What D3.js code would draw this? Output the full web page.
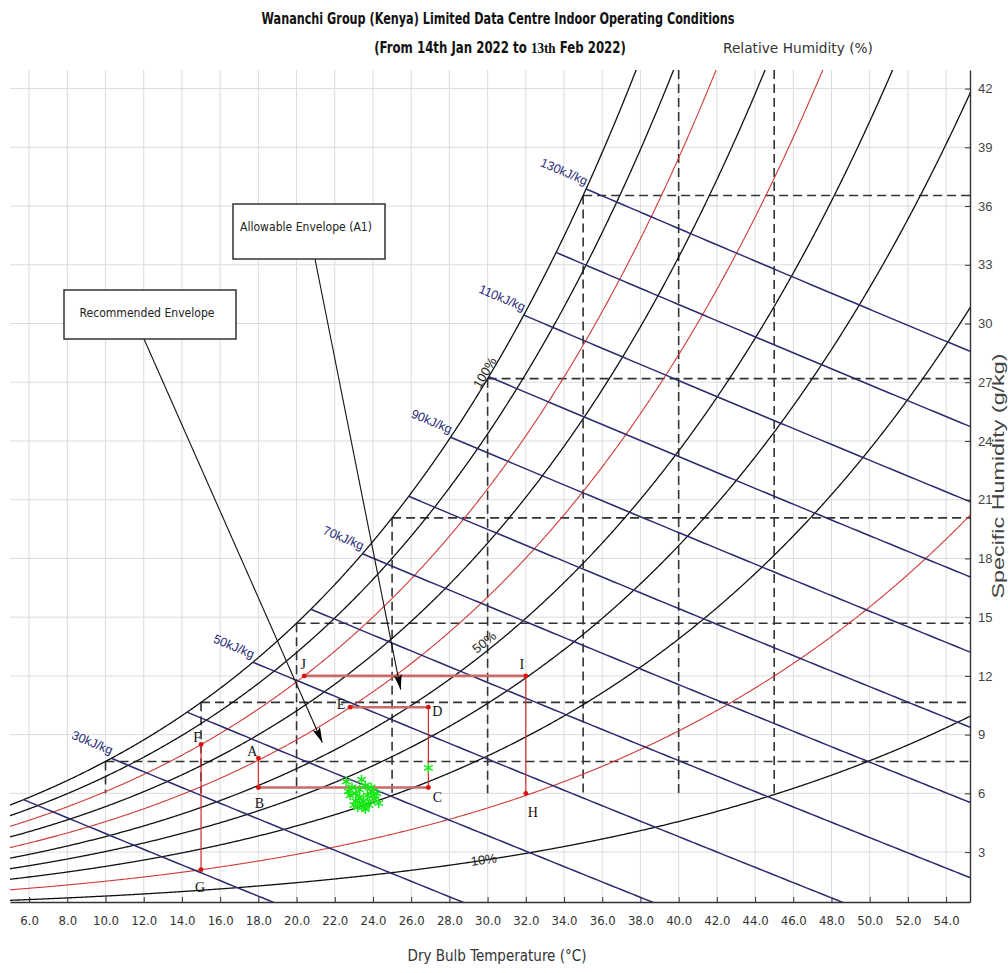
<!DOCTYPE html>
<html>
<head>
<meta charset="utf-8">
<script src="https://cdn.jsdelivr.net/npm/d3@7"></script>
<style>
  body { margin: 0; background: #fff; }
  text { font-family: "Liberation Sans Narrow", "Arial Narrow", "DejaVu Sans Condensed", sans-serif; }
</style>
</head>
<body>
<div id="chart"></div>
<script>
// tick labels
var xTicks = [6, 8, 10, 12, 14, 16, 18, 20, 22, 24, 26, 28, 30, 32, 34, 36, 38, 40, 42, 44, 46, 48, 50, 52, 54];
var yTicks = [3, 6, 9, 12, 15, 18, 21, 24, 27, 30, 33, 36, 39, 42];

// relative humidity curves (%) and enthalpy lines (kJ/kg)
var rhLevels = [10, 20, 30, 40, 50, 60, 70, 80, 90, 100];
var rhRed = [20, 60, 80];
var rhLabels = [100, 50, 10];
var enthalpyLevels = [20, 30, 40, 50, 60, 70, 80, 90, 100, 110, 120, 130];
var enthalpyLabels = [30, 50, 70, 90, 110, 130];

// saturation marks (dashed lines) at these dry bulb temps
var markTemps = [10, 15, 20, 25, 30, 35, 40, 45];

// envelope corner points
var envName = ["A", "B", "C", "D", "E", "F", "G", "H", "I", "J"];
var envTemp = [18.0, 18.0, 26.9, 26.9, 22.8, 15.0, 15.0, 32.0, 32.0, 20.4];
var envHum  = [7.8, 6.3, 6.3, 10.4, 10.4, 8.5, 2.1, 6.0, 12.0, 12.0];
var envEdges = [["A","B"], ["B","C"], ["C","D"], ["D","E"], ["F","G"], ["H","I"], ["I","J"]];

// measured indoor conditions
var obsTemp = [22.6, 22.9, 23.1, 23.3, 23.5, 23.7, 23.9, 24.1, 24.3, 23.0, 23.2, 23.4, 23.6, 23.8, 24.0, 22.8, 23.3, 23.6, 23.9, 24.2, 23.1, 23.5, 23.8, 22.7, 23.4, 26.9];
var obsHum  = [6.6, 6.3, 6.0, 5.8, 5.6, 5.9, 6.1, 5.7, 5.5, 5.4, 5.3, 5.5, 5.2, 5.4, 5.9, 5.9, 6.2, 6.4, 6.3, 6.0, 5.6, 5.3, 5.6, 6.1, 6.7, 7.3];

var width = 1008, height = 973,
  plot = {left: 10, right: 970, top: 70, bottom: 902},
  P = 101.325;

var svg = d3.select("#chart").append("svg")
  .attr("width", width).attr("height", height);

var x = d3.scaleLinear().domain([5, 55.25]).range([plot.left, plot.right]),
  y = d3.scaleLinear().domain([0.45, 42.95]).range([plot.bottom, plot.top]);

// psychrometric helpers
function psat(t) { return 0.61078 * Math.exp(17.27 * t / (t + 237.3)); }
function humRatio(t, rh) { var pv = rh / 100 * psat(t); return 622 * pv / (P - pv); }
function enthalpy(t, w) { return 1.006 * t + w / 1000 * (2501 + 1.86 * t); }
function wFromH(h, t) { return 1000 * (h - 1.006 * t) / (2501 + 1.86 * t); }
function satTempForH(h) {
  var lo = -20, hi = 70;
  for (var i = 0; i < 60; i++) {
    var mid = (lo + hi) / 2;
    if (enthalpy(mid, humRatio(mid, 100)) > h) hi = mid; else lo = mid;
  }
  return (lo + hi) / 2;
}

svg.append("defs").append("clipPath").attr("id", "clip")
  .append("rect")
  .attr("x", plot.left).attr("y", plot.top)
  .attr("width", plot.right - plot.left).attr("height", plot.bottom - plot.top);

svg.select("defs").append("marker")
  .attr("id", "arrow")
  .attr("markerUnits", "userSpaceOnUse")
  .attr("markerWidth", 16).attr("markerHeight", 10)
  .attr("refX", 15).attr("refY", 4)
  .attr("orient", "auto")
  .append("path").attr("d", "M0,0 L15,4 L0,8 L3,4 Z").attr("fill", "#000");

// grid
var grid = svg.append("g");
grid.selectAll(".vg").data(xTicks).enter().append("line")
  .attr("x1", function (d) { return x(d); }).attr("x2", function (d) { return x(d); })
  .attr("y1", plot.top).attr("y2", plot.bottom)
  .attr("stroke", "#dcdcdc").attr("stroke-width", 1);
grid.selectAll(".hg").data(yTicks).enter().append("line")
  .attr("x1", plot.left).attr("x2", plot.right)
  .attr("y1", function (d) { return y(d); }).attr("y2", function (d) { return y(d); })
  .attr("stroke", "#dcdcdc").attr("stroke-width", 1);

var chart = svg.append("g").attr("clip-path", "url(#clip)");

// dashed saturation marks
var dash = chart.append("g")
  .attr("stroke", "#333").attr("stroke-width", 1.6).attr("stroke-dasharray", "9,5").attr("fill", "none");
markTemps.forEach(function (t) {
  var ws = humRatio(t, 100);
  dash.append("line")
    .attr("x1", x(t)).attr("x2", plot.right)
    .attr("y1", y(ws)).attr("y2", y(ws));
  dash.append("line")
    .attr("x1", x(t)).attr("x2", x(t))
    .attr("y1", Math.max(y(ws), plot.top)).attr("y2", y(6));
});

// RH curves
var line = d3.line().x(function (d) { return x(d[0]); }).y(function (d) { return y(d[1]); });
var temps = d3.range(4.5, 55.5, 0.05);
chart.selectAll(".rh").data(rhLevels).enter().append("path")
  .attr("fill", "none")
  .attr("stroke", function (d) { return rhRed.indexOf(d) >= 0 ? "#d03a3a" : "#111"; })
  .attr("stroke-width", function (d) { return rhRed.indexOf(d) >= 0 ? 1.1 : 1.3; })
  .attr("d", function (rh) {
    return line(temps.map(function (t) { return [t, humRatio(t, rh)]; })
      .filter(function (p) { return p[1] < 48; }));
  });

// enthalpy lines
chart.selectAll(".h").data(enthalpyLevels).enter().append("path")
  .attr("fill", "none")
  .attr("stroke", "#2b2b6e").attr("stroke-width", 1.5)
  .attr("d", function (h) {
    var ts = satTempForH(h), pts = [];
    for (var t = ts; t <= 56; t += 0.25) {
      var w = wFromH(h, t);
      pts.push([t, w]);
      if (w < 0) break;
    }
    return line(pts);
  });

// envelope
var env = envName.map(function (n, i) { return {name: n, t: envTemp[i], w: envHum[i]}; });
var byName = {};
env.forEach(function (d) { byName[d.name] = d; });
svg.append("g").selectAll("line").data(envEdges).enter().append("line")
  .attr("x1", function (e) { return x(byName[e[0]].t); })
  .attr("y1", function (e) { return y(byName[e[0]].w); })
  .attr("x2", function (e) { return x(byName[e[1]].t); })
  .attr("y2", function (e) { return y(byName[e[1]].w); })
  .attr("stroke", function (e) { return byName[e[0]].w === byName[e[1]].w ? "#c96a6a" : "#d02a2a"; })
  .attr("stroke-width", function (e) { return byName[e[0]].w === byName[e[1]].w ? 2.6 : 1.2; });

svg.append("g").selectAll("circle").data(env).enter().append("circle")
  .attr("cx", function (d) { return x(d.t); })
  .attr("cy", function (d) { return y(d.w); })
  .attr("r", 2.4).attr("fill", "#dd1111");

var labelOff = {A: [-6, -7], B: [1, 16], C: [9, 10], D: [9, 4], E: [-9, -3], F: [-4, -7],
  G: [-1, 18], H: [7, 19], I: [-4, -11], J: [-1, -11]};
svg.append("g").selectAll("text").data(env).enter().append("text")
  .attr("x", function (d) { return x(d.t) + labelOff[d.name][0]; })
  .attr("y", function (d) { return y(d.w) + labelOff[d.name][1]; })
  .attr("text-anchor", "middle").attr("dominant-baseline", "central")
  .style("font-family", "'Liberation Serif', 'DejaVu Serif', serif")
  .style("font-size", "14px").attr("fill", "#111")
  .text(function (d) { return d.name; });

// measured points
var star = d3.symbol().type(d3.symbolAsterisk).size(70);
svg.append("g").selectAll("path").data(obsTemp).enter().append("path")
  .attr("transform", function (d, i) { return "translate(" + x(d) + "," + y(obsHum[i]) + ")"; })
  .attr("d", star)
  .attr("fill", "none").attr("stroke", "#18e818").attr("stroke-width", 1.5);

// enthalpy labels at saturation
svg.append("g").selectAll("text").data(enthalpyLabels).enter().append("text")
  .attr("transform", function (h) {
    var ts = satTempForH(h), px = x(ts), py = y(humRatio(ts, 100));
    var ang = Math.atan2(y(wFromH(h, ts + 1)) - py, x(ts + 1) - px) * 180 / Math.PI;
    return "translate(" + px + "," + py + ") rotate(" + ang + ")";
  })
  .attr("x", -2).attr("y", -3)
  .attr("text-anchor", "end")
  .style("font-family", "'Liberation Sans', Arial, sans-serif")
  .style("font-size", "12.5px").attr("fill", "#2b2b7a")
  .text(function (h) { return h + "kJ/kg"; });

// RH labels along curves
var rhLabPos = {100: [30.1, 1], 50: [30.1, 4], 10: [29.8, -4]};
svg.append("g").selectAll("text").data(rhLabels).enter().append("text")
  .attr("transform", function (rh) {
    var t = rhLabPos[rh][0], px = x(t), py = y(humRatio(t, rh));
    var ang = Math.atan2(y(humRatio(t + 0.5, rh)) - y(humRatio(t - 0.5, rh)), x(t + 0.5) - x(t - 0.5)) * 180 / Math.PI;
    return "translate(" + px + "," + py + ") rotate(" + ang + ")";
  })
  .attr("y", function (rh) { return -rhLabPos[rh][1]; })
  .attr("text-anchor", "middle")
  .style("font-family", "'Liberation Sans', Arial, sans-serif")
  .style("font-size", "13px").attr("fill", "#222")
  .text(function (rh) { return rh + "%"; });

// axes
var xAxis = svg.append("g")
  .attr("transform", "translate(0," + plot.bottom + ")")
  .call(d3.axisBottom(x).tickValues(xTicks).tickFormat(d3.format(".1f"))
    .tickSize(-5).tickSizeOuter(0).tickPadding(14));
var yAxis = svg.append("g")
  .attr("transform", "translate(" + plot.right + ",0)")
  .call(d3.axisRight(y).tickValues(yTicks).tickSize(-5).tickSizeOuter(0).tickPadding(8));
xAxis.select(".domain").attr("stroke", "#333").attr("stroke-width", 1.4);
yAxis.select(".domain").attr("stroke", "#333").attr("stroke-width", 1.4);
xAxis.selectAll(".tick line").attr("stroke", "#333");
yAxis.selectAll(".tick line").attr("stroke", "#333");
xAxis.selectAll("text").style("font-size", "13px").attr("fill", "#333")
  .style("font-family", "'Liberation Sans Narrow', 'DejaVu Sans Condensed', sans-serif");
yAxis.selectAll("text").style("font-size", "13px").attr("fill", "#444")
  .style("font-family", "'Liberation Sans', Arial, sans-serif");

svg.append("text").attr("x", 497).attr("y", 961).attr("text-anchor", "middle")
  .style("font-size", "15px").attr("fill", "#333").text("Dry Bulb Temperature (°C)");
svg.append("text").attr("transform", "translate(1004,476) rotate(-90)").attr("text-anchor", "middle")
  .attr("textLength", 245).attr("lengthAdjust", "spacingAndGlyphs")
  .style("font-family", "'Liberation Sans', Arial, sans-serif")
  .style("font-size", "16px").attr("fill", "#444").text("Specific Humidity (g/kg)");

// titles: squeeze to the narrow width of the original
function fitText(sel, cx, cy, w) {
  var n = sel.node().getComputedTextLength();
  sel.attr("text-anchor", "middle")
    .attr("transform", "translate(" + cx + "," + cy + ") scale(" + (w / n) + ",1)");
}
var t1 = svg.append("text")
  .style("font-size", "15px").style("font-weight", "bold").attr("fill", "#111")
  .text("Wananchi Group (Kenya) Limited Data Centre Indoor Operating Conditions");
fitText(t1, 498, 24, 473);
var t2 = svg.append("text")
  .style("font-size", "15px").style("font-weight", "bold").attr("fill", "#111");
t2.append("tspan").text("(From 14th Jan 2022 to ");
t2.append("tspan").style("font-family", "'Liberation Serif', serif").text("13th");
t2.append("tspan").text(" Feb 2022)");
fitText(t2, 500, 53, 252);
var t3 = svg.append("text")
  .style("font-size", "14px").attr("fill", "#333").text("Relative Humidity (%)");
fitText(t3, 798, 53, 150);

// callouts
var boxes = [
  {text: "Allowable Envelope (A1)", x0: 233, y0: 204, x1: 385, y1: 259, ax: 315, tip: [25.45, 11.3], tw: 132},
  {text: "Recommended Envelope", x0: 64, y0: 290, x1: 236, y1: 339, ax: 144, tip: [21.35, 8.6], tw: 135}
];
var callout = svg.append("g");
boxes.forEach(function (b) {
  callout.append("line")
    .attr("x1", b.ax).attr("y1", b.y1)
    .attr("x2", x(b.tip[0])).attr("y2", y(b.tip[1]))
    .attr("stroke", "#111").attr("stroke-width", 1.1)
    .attr("marker-end", "url(#arrow)");
  callout.append("rect")
    .attr("x", b.x0).attr("y", b.y0).attr("width", b.x1 - b.x0).attr("height", b.y1 - b.y0)
    .attr("fill", "#fff").attr("stroke", "#333").attr("stroke-width", 1.5);
  callout.append("text")
    .attr("x", (b.x0 + b.x1) / 2 - 3).attr("y", b.y0 + 27)
    .attr("text-anchor", "middle")
    .attr("textLength", b.tw).attr("lengthAdjust", "spacingAndGlyphs")
    .style("font-size", "13px").attr("fill", "#222").text(b.text);
});
</script>
</body>
</html>
